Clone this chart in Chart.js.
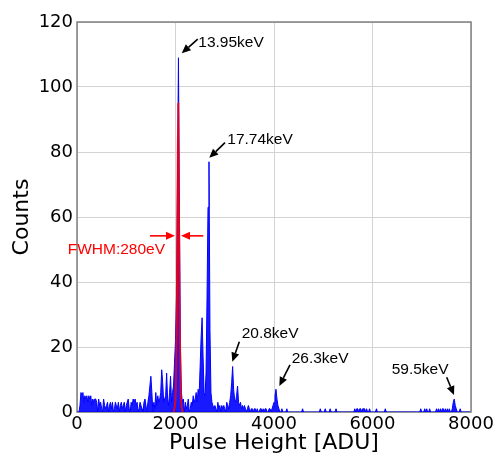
<!DOCTYPE html>
<html>
<head>
<meta charset="utf-8">
<script src="https://cdn.jsdelivr.net/npm/chart.js@4"></script>
<style>
  html, body { margin: 0; padding: 0; background: #fff; }
  #chart { display: block; }
</style>
</head>
<body>
<canvas id="chart" width="496" height="457"></canvas>
<script>
// pulse height histogram, 20 ADU per bin starting at 0
const binWidth = 20
const counts = [
  0, 0, 0, 2, 6, 5, 6, 3, 5, 4, 5, 3, 5, 4, 5, 2, 4, 3, 4, 4,       // 0 - 380
  3, 0, 4, 2, 3, 1, 0, 4, 2, 1, 2, 3, 0, 2, 3, 1, 3, 0, 1, 3,       // 400 - 780
  2, 1, 3, 0, 2, 3, 1, 2, 3, 0, 2, 3, 4, 1, 0, 3, 2, 4, 3, 4,       // 800 - 1180
  2, 3, 0, 1, 3, 2, 1, 0, 3, 4, 2, 0, 3, 5, 8, 11, 6, 0, 3, 1,      // 1200 - 1580
  6, 2, 5, 3, 4, 6, 13, 9, 3, 4, 5, 12, 4, 2, 6, 11, 3, 6, 8, 15,   // 1600 - 1980
  22, 35, 72, 109, 60, 20, 6, 3, 4, 0, 3, 1, 2, 4, 0, 1, 3, 2, 5, 3, // 2000 - 2380
  4, 6, 3, 7, 5, 14, 23, 29, 17, 6, 5, 12, 35, 63, 77, 25, 6, 3, 2, 1, // 2400 - 2780
  2, 1, 0, 3, 1, 2, 0, 2, 1, 2, 1, 0, 3, 2, 1, 3, 5, 9, 14, 7,      // 2800 - 3180
  4, 3, 5, 8, 3, 2, 3, 1, 2, 1, 2, 1, 0, 1, 2, 1, 0, 1, 1, 0,       // 3200 - 3580
  1, 1, 0, 1, 0, 0, 1, 1, 0, 1, 0, 1, 1, 0, 0, 1, 1, 0, 1, 2,       // 3600 - 3980
  3, 5, 7, 4, 2, 1, 0, 0, 1, 0, 0, 0, 0, 1, 0, 0, 0, 0, 0, 0,       // 4000 - 4380
  0, 0, 0, 0, 0, 0, 0, 0, 0, 1, 0, 0, 0, 0, 0, 0, 0, 0, 0, 0,       // 4400 - 4780
  0, 0, 0, 0, 0, 0, 0, 1, 0, 0, 0, 0, 1, 0, 0, 0, 0, 1, 0, 0,       // 4800 - 5180
  0, 0, 0, 1, 0, 0, 0, 0, 0, 0, 0, 0, 0, 0, 0, 0, 0, 0, 0, 0,       // 5200 - 5580
  0, 0, 1, 0, 1, 1, 0, 1, 1, 0, 1, 1, 1, 0, 1, 0, 0, 1, 0, 0,       // 5600 - 5980
  0, 0, 0, 0, 1, 0, 0, 0, 0, 0, 0, 0, 0, 1, 0, 0, 0, 0, 0, 0,       // 6000 - 6380
  0, 0, 0, 0, 0, 0, 0, 0, 0, 0, 0, 0, 0, 0, 0, 0, 0, 0, 0, 0,       // 6400 - 6780
  0, 0, 0, 0, 0, 0, 0, 0, 0, 1, 0, 0, 0, 1, 0, 1, 0, 0, 1, 0,       // 6800 - 7180
  0, 0, 0, 0, 0, 1, 0, 1, 0, 1, 0, 1, 1, 0, 1, 0, 1, 0, 1, 0,       // 7200 - 7580
  0, 1, 3, 4, 2, 1, 0, 0, 0, 1, 0, 0, 0, 0, 0, 0, 0, 0, 0, 0        // 7600 - 7980
]

// gaussian fit of the 13.95keV line
const fitX = [1965, 2005, 2025, 2040, 2055, 2070, 2085, 2105, 2145]
const fitY = [0, 6, 28, 62, 95, 62, 28, 6, 0]

const xTicks = [0, 2000, 4000, 6000, 8000]
const yTicks = [0, 20, 40, 60, 80, 100, 120]

// peak labels: text anchor, arrow tail, arrow head (in ADU / counts)
const peakNames = ['13.95keV', '17.74keV', '20.8keV', '26.3keV', '59.5keV']
const peakText = [[2463, 113.6], [3052, 83.9], [3344, 24.2], [4359, 16.5], [6390, 12.9]]
const peakTail = [[2451, 114.7], [3005, 82.9], [3296, 21.6], [4325, 14.5], [7506, 10.7]]
const peakHead = [[2126, 110.4], [2686, 78.2], [3153, 15.5], [4108, 8.0], [7655, 5.2]]

const fwhmText = 'FWHM:280eV'

function drawArrow(ctx, x0, y0, x1, y1, color) {
  const ang = Math.atan2(y1 - y0, x1 - x0)
  const len = 9, half = 4
  const bx = x1 - len * Math.cos(ang)
  const by = y1 - len * Math.sin(ang)
  ctx.strokeStyle = color
  ctx.fillStyle = color
  ctx.lineWidth = 1.6
  ctx.beginPath()
  ctx.moveTo(x0, y0)
  ctx.lineTo(bx, by)
  ctx.stroke()
  ctx.beginPath()
  ctx.moveTo(x1, y1)
  ctx.lineTo(bx + half * Math.sin(ang), by - half * Math.cos(ang))
  ctx.lineTo(bx - half * Math.sin(ang), by + half * Math.cos(ang))
  ctx.closePath()
  ctx.fill()
}

const frame = {
  id: 'frame',
  beforeDatasetsDraw(chart) {
    const { ctx, chartArea: a } = chart
    ctx.save()
    ctx.strokeStyle = '#808080'
    ctx.lineWidth = 1.5
    ctx.strokeRect(a.left, a.top, a.right - a.left, a.bottom - a.top)
    ctx.restore()
  }
}

const notes = {
  id: 'notes',
  afterDatasetsDraw(chart) {
    const { ctx, scales: { x, y } } = chart
    const px = v => x.getPixelForValue(v)
    const py = v => y.getPixelForValue(v)
    ctx.save()
    ctx.font = '15.5px "Liberation Sans", Arial, sans-serif'
    ctx.textBaseline = 'middle'
    ctx.textAlign = 'left'
    peakNames.forEach((name, i) => {
      ctx.fillStyle = '#000'
      ctx.fillText(name, px(peakText[i][0]), py(peakText[i][1]))
      drawArrow(ctx, px(peakTail[i][0]), py(peakTail[i][1]), px(peakHead[i][0]), py(peakHead[i][1]), '#000')
    })

    // FWHM marker
    ctx.fillStyle = '#ff0000'
    ctx.textAlign = 'right'
    ctx.fillText(fwhmText, px(1787), py(49.8))
    drawArrow(ctx, px(1482), py(54.2), px(1990), py(54.2), '#ff0000')
    drawArrow(ctx, px(2564), py(54.2), px(2112), py(54.2), '#ff0000')
    ctx.restore()
  }
}

const histData = counts.map((c, i) => ({ x: i * binWidth, y: c }))
const fitData = fitX.map((v, i) => ({ x: v, y: fitY[i] }))

const tickFont = { family: 'DejaVu Sans', size: 18 }
const titleFont = { family: 'DejaVu Sans', size: 22 }

new Chart(document.getElementById('chart'), {
  type: 'line',
  data: {
    datasets: [
      {
        label: 'fit',
        data: fitData,
        borderColor: 'rgba(255, 0, 0, 0.85)',
        borderWidth: 2,
        pointRadius: 0,
        fill: false,
        cubicInterpolationMode: 'monotone',
        order: 0
      },
      {
        label: 'counts',
        data: histData,
        borderColor: '#0000ff',
        backgroundColor: 'rgba(0, 0, 255, 0.9)',
        borderWidth: 1,
        pointRadius: 0,
        tension: 0,
        fill: 'origin',
        order: 1
      }
    ]
  },
  options: {
    responsive: false,
    animation: false,
    layout: { padding: { top: 22, right: 25, left: 0, bottom: 0 } },
    plugins: {
      legend: { display: false },
      tooltip: { enabled: false }
    },
    scales: {
      x: {
        type: 'linear',
        min: 0,
        max: 8000,
        afterBuildTicks: s => { s.ticks = xTicks.map(v => ({ value: v })) },
        ticks: {
          font: tickFont,
          color: '#000',
          padding: 2,
          maxRotation: 0,
          autoSkip: false,
          callback: v => String(v)
        },
        grid: { color: '#d3d3d3', drawTicks: false },
        border: { display: false },
        title: {
          display: true,
          text: 'Pulse Height [ADU]',
          font: titleFont,
          color: '#000',
          padding: { top: 0, bottom: 1 }
        },
        afterFit: s => { s.height = 45 }
      },
      y: {
        min: 0,
        max: 120,
        afterBuildTicks: s => { s.ticks = yTicks.map(v => ({ value: v })) },
        ticks: {
          font: tickFont,
          color: '#000',
          padding: 4,
          callback: v => String(v)
        },
        grid: { color: '#d3d3d3', drawTicks: false },
        border: { display: false },
        title: {
          display: true,
          text: 'Counts',
          font: titleFont,
          color: '#000',
          padding: { top: 9, bottom: 0 }
        },
        afterFit: s => { s.width = 77 }
      }
    }
  },
  plugins: [frame, notes]
})
</script>
</body>
</html>
